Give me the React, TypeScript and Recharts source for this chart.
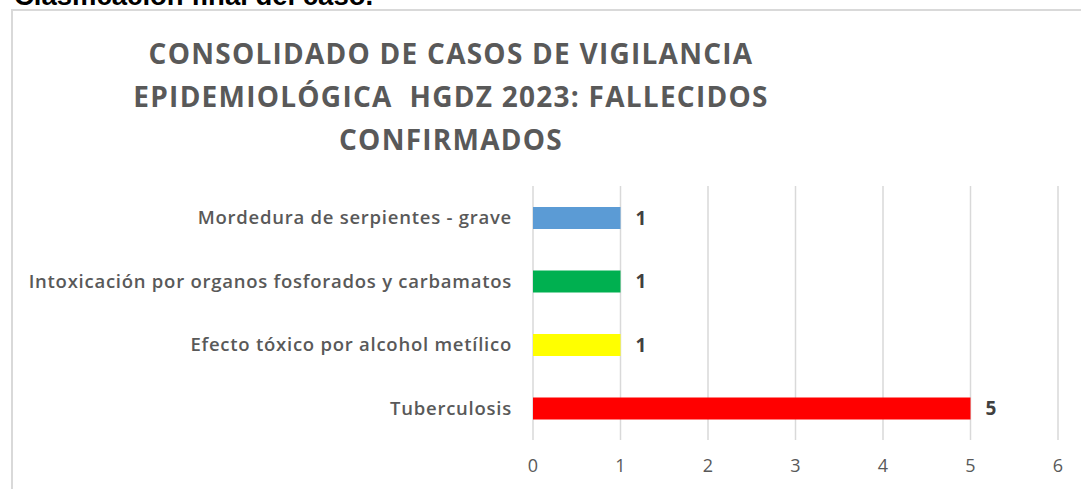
import React from "react";
import { BarChart, Bar, XAxis, YAxis, CartesianGrid, Cell, LabelList } from "recharts";

const categories = [
  "Mordedura de serpientes - grave",
  "Intoxicación por organos fosforados y carbamatos",
  "Efecto tóxico por alcohol metílico",
  "Tuberculosis",
];
const values = [1, 1, 1, 5];
const barColors = ["#5B9BD5", "#00B050", "#FFFF00", "#FF0000"];
const xTicks = [0, 1, 2, 3, 4, 5, 6];
const titleLines = [
  "CONSOLIDADO DE CASOS DE VIGILANCIA",
  "EPIDEMIOLÓGICA  HGDZ 2023: FALLECIDOS",
  "CONFIRMADOS",
];
const headerText = "Clasificación final del caso.";

const data = categories.map((name, i) => ({ name, value: values[i] }));

export default function App() {
  return (
    <div style={{ position: "absolute", left: 0, top: 0, width: 1081, height: 489, overflow: "hidden", background: "#fff" }}>
      <div
        style={{
          position: "absolute",
          left: 14,
          top: -18,
          fontFamily: "'Liberation Sans', Arial, sans-serif",
          fontWeight: "bold",
          fontSize: 27.5,
          lineHeight: "27px",
          color: "#000",
          whiteSpace: "nowrap",
        }}
      >
        {headerText}
      </div>
      <div
        style={{
          position: "absolute",
          left: 11,
          top: 9,
          width: 1100,
          height: 500,
          border: "2px solid #d9d9d9",
          boxSizing: "border-box",
        }}
      />
      <div
        style={{
          position: "absolute",
          left: 0,
          top: 32,
          width: 902,
          textAlign: "center",
          fontFamily: "'Open Sans', sans-serif",
          fontWeight: 700,
          fontSize: 28,
          letterSpacing: "1.25px",
          lineHeight: "43px",
          color: "#595959",
          whiteSpace: "pre",
        }}
      >
        {titleLines.map((t, i) => (
          <div key={i}>{t}</div>
        ))}
      </div>
      <div style={{ position: "absolute", left: 0, top: 0 }}>
        <BarChart
          width={1081}
          height={489}
          data={data}
          layout="vertical"
          margin={{ top: 186, right: 23, bottom: 19, left: 0 }}
          barSize={22}
        >
          <CartesianGrid horizontal={false} vertical={true} stroke="#d9d9d9" strokeWidth={1.5} />
          <XAxis
            type="number"
            domain={[0, 6]}
            ticks={xTicks}
            axisLine={false}
            tickLine={false}
            height={30}
            tickMargin={13}
            tick={{ fill: "#595959", fontSize: 18, fontFamily: "'Open Sans', sans-serif" }}
          />
          <YAxis
            type="category"
            dataKey="name"
            width={533}
            axisLine={false}
            tickLine={false}
            tickMargin={15}
            interval={0}
            tick={{ fill: "#595959", fontSize: 18.5, fontWeight: 600, letterSpacing: "0.75px", fontFamily: "'Open Sans', sans-serif" }}
          />
          <Bar dataKey="value" isAnimationActive={false}>
            {data.map((d, i) => (
              <Cell key={i} fill={barColors[i]} />
            ))}
            <LabelList
              dataKey="value"
              position="right"
              offset={15}
              fill="#404040"
              fontSize={19}
              fontWeight={700}
              fontFamily="'Open Sans', sans-serif"
            />
          </Bar>
        </BarChart>
      </div>
    </div>
  );
}
